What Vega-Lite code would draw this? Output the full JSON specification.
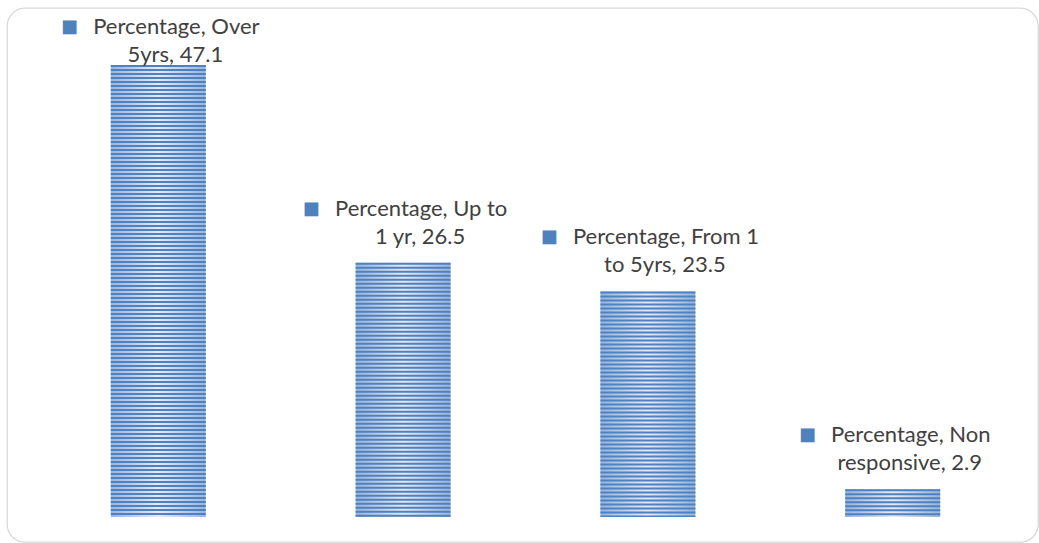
{
  "$schema": "https://vega.github.io/schema/vega-lite/v6.json",
  "width": 1031,
  "height": 534,
  "autosize": {"type": "none"},
  "padding": {"left": 7, "top": 8, "right": 1, "bottom": 1},
  "background": "white",
  "view": {"stroke": "#d9d9d9", "strokeWidth": 1.3, "cornerRadius": 18},
  "data": {"values": [
    {"cat": "Over 5yrs", "value": 47.1, "line1": "Percentage, Over", "line2": "5yrs, 47.1"},
    {"cat": "Up to 1 yr", "value": 26.5, "line1": "Percentage, Up to", "line2": "1 yr, 26.5"},
    {"cat": "From 1 to 5yrs", "value": 23.5, "line1": "Percentage, From 1", "line2": "to 5yrs, 23.5"},
    {"cat": "Non responsive", "value": 2.9, "line1": "Percentage, Non", "line2": "responsive, 2.9"}
  ]},
  "transform": [
    {"calculate": "'■\u00a0\u00a0\u00a0' + datum.line1", "as": "keyed"},
    {"calculate": "min(datum.value, 45.43)", "as": "labelPos"}
  ],
  "encoding": {
    "x": {"field": "cat", "type": "nominal", "sort": null, "axis": null,
          "scale": {"paddingInner": 0.612, "paddingOuter": 0.4118, "range": [3, 1034]}}
  },
  "layer": [
    {
      "mark": {"type": "bar",
        "fill": {"gradient": "linear", "x1": 0, "x2": 1, "y1": 0, "y2": 0,
          "stops": [{"offset": 0, "color": "#98b5de"}, {"offset": 0.5, "color": "#e3ebf6"}, {"offset": 1, "color": "#98b5de"}]}},
      "encoding": {
        "y": {"field": "value", "type": "quantitative", "axis": null,
              "scale": {"domain": [-2.605, 53.04], "nice": false, "zero": false}},
        "y2": {"datum": 0}
      }
    },
    {
      "mark": {"type": "rule", "stroke": "#4f80c0", "strokeWidth": 95, "strokeDash": [2, 2], "strokeCap": "butt"},
      "encoding": {
        "y": {"field": "value", "type": "quantitative"},
        "y2": {"datum": 0}
      }
    },
    {
      "mark": {"type": "text", "dx": 3, "dy": -54, "baseline": "middle", "align": "center", "font": "Lato", "fontSize": 22,
        "strokeWidth": 3, "strokeJoin": "miter",
        "fill": {"gradient": "linear", "x1": 0, "x2": 1, "y1": 0, "y2": 0,
          "stops": [{"offset": 0, "color": "#4f81bd"}, {"offset": 0.1, "color": "#4f81bd"}, {"offset": 0.1001, "color": "#404040"}, {"offset": 1, "color": "#404040"}]},
        "stroke": {"gradient": "linear", "x1": 0, "x2": 1, "y1": 0, "y2": 0,
          "stops": [{"offset": 0, "color": "#4f81bd"}, {"offset": 0.1, "color": "#4f81bd"}, {"offset": 0.1001, "color": "rgba(255,255,255,0)"}, {"offset": 1, "color": "rgba(255,255,255,0)"}]}},
      "encoding": {
        "y": {"field": "labelPos", "type": "quantitative"},
        "text": {"field": "keyed", "type": "nominal"}
      }
    },
    {
      "mark": {"type": "text", "dx": 17, "dy": -26, "baseline": "middle", "align": "center", "font": "Lato", "fontSize": 22, "fill": "#404040"},
      "encoding": {
        "y": {"field": "labelPos", "type": "quantitative"},
        "text": {"field": "line2", "type": "nominal"}
      }
    }
  ]
}
